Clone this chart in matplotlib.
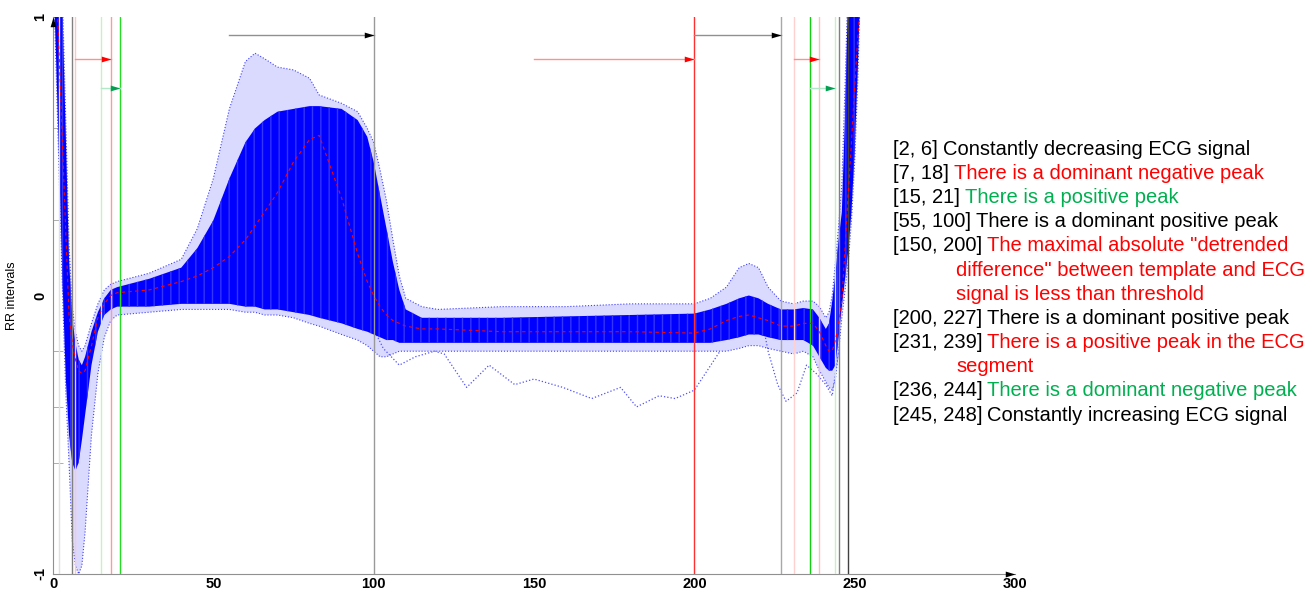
import numpy as np
import matplotlib.pyplot as plt

plt.rcParams['font.family'] = ['Liberation Sans', 'DejaVu Sans']
plt.rcParams['axes.unicode_minus'] = False

beat_x = [0, 1, 2, 3, 4, 5, 6, 7, 8, 9,
          10, 12, 14, 16, 18, 20, 30, 40, 45, 50,
          55, 60, 63, 66, 70, 75, 80, 83, 90, 95,
          98, 100, 102, 104, 106, 108, 110, 115, 120, 140,
          160, 180, 200, 205, 210, 214, 217, 220, 223, 227,
          231, 234, 237, 239, 241, 242, 243, 244, 245, 246,
          247, 248, 249, 250, 251, 252]

# dense part of the beats
core_top = [1.2, 1.2, 1.2, 1.0, 0.57, 0.13, -0.08, -0.17, -0.23, -0.25,
            -0.22, -0.13, -0.06, -0.01, 0.02, 0.03, 0.06, 0.1, 0.17, 0.27,
            0.42, 0.55, 0.6, 0.63, 0.66, 0.67, 0.68, 0.68, 0.67, 0.63,
            0.57, 0.48, 0.36, 0.24, 0.12, 0.02, -0.05, -0.08, -0.08, -0.08,
            -0.075, -0.07, -0.065, -0.05, -0.03, -0.01, 0.0, -0.01, -0.03, -0.05,
            -0.05, -0.045, -0.05, -0.08, -0.12, -0.1, -0.02, 0.08, 0.2, 0.3,
            0.65, 1.1, 1.2, 1.2, 1.2, 1.2]
core_bottom = [1.2, 0.84, 0.44, 0.04, -0.3, -0.5, -0.6, -0.63, -0.6, -0.52,
               -0.43, -0.25, -0.13, -0.07, -0.05, -0.04, -0.04, -0.03, -0.03, -0.03,
               -0.03, -0.04, -0.04, -0.05, -0.05, -0.06, -0.07, -0.08, -0.1, -0.12,
               -0.13, -0.14, -0.15, -0.16, -0.16, -0.17, -0.17, -0.17, -0.17, -0.17,
               -0.17, -0.17, -0.17, -0.17, -0.16, -0.15, -0.14, -0.14, -0.15, -0.16,
               -0.16, -0.16, -0.18, -0.22, -0.26, -0.27, -0.27, -0.25, -0.15, -0.04,
               0.06, 0.16, 0.3, 0.52, 0.82, 1.2]
# sparse outliers around it
outer_top = [1.2, 1.2, 1.2, 1.05, 0.62, 0.18, -0.04, -0.13, -0.18, -0.2,
             -0.18, -0.1, -0.03, 0.02, 0.04, 0.05, 0.08, 0.13, 0.24, 0.42,
             0.67, 0.84, 0.87, 0.85, 0.82, 0.81, 0.78, 0.72, 0.69, 0.66,
             0.6, 0.55, 0.45, 0.34, 0.2, 0.07, -0.01, -0.04, -0.05, -0.04,
             -0.04, -0.03, -0.03, -0.01, 0.03, 0.1, 0.115, 0.1, 0.03, -0.02,
             -0.03, -0.02, -0.02, -0.04, -0.08, -0.06, 0.0, 0.12, 0.25, 0.4,
             0.75, 1.15, 1.2, 1.2, 1.2, 1.2]
outer_bottom = [1.2, 0.8, 0.4, 0.0, -0.35, -0.6, -0.88, -0.97, -1.0, -0.97,
                -0.85, -0.5, -0.28, -0.15, -0.09, -0.07, -0.06, -0.05, -0.05, -0.05,
                -0.05, -0.06, -0.06, -0.07, -0.07, -0.08, -0.1, -0.11, -0.14, -0.16,
                -0.18, -0.2, -0.22, -0.22, -0.21, -0.2, -0.2, -0.2, -0.2, -0.2,
                -0.2, -0.2, -0.2, -0.2, -0.2, -0.19, -0.18, -0.18, -0.19, -0.2,
                -0.21, -0.2, -0.22, -0.27, -0.31, -0.33, -0.34, -0.3, -0.2, -0.08,
                0.02, 0.12, 0.27, 0.48, 0.78, 1.2]
# template beat (red dashed)
template = [1.45, 1.15, 0.84, 0.53, 0.22, -0.07, -0.17, -0.23, -0.27, -0.28,
            -0.27, -0.18, -0.08, -0.03, 0.0, 0.01, 0.02, 0.05, 0.07, 0.1,
            0.14, 0.2, 0.25, 0.3, 0.37, 0.48, 0.56, 0.575, 0.35, 0.15,
            0.05, 0.0, -0.04, -0.07, -0.09, -0.1, -0.11, -0.12, -0.12, -0.13,
            -0.13, -0.13, -0.135, -0.12, -0.09, -0.075, -0.07, -0.08, -0.09, -0.11,
            -0.11, -0.1, -0.1, -0.13, -0.18, -0.2, -0.2, -0.16, -0.1, -0.02,
            0.17, 0.37, 0.55, 0.75, 0.93, 1.1]

# two odd beats that wander below the bundle
odd1_x = [100, 103, 108, 113, 119, 122, 129, 136, 144, 150, 159, 168, 177, 182, 189, 194, 200, 208]
odd1_y = [-0.12, -0.19, -0.25, -0.22, -0.2, -0.21, -0.33, -0.25, -0.32, -0.3, -0.33, -0.37, -0.33, -0.4, -0.36, -0.37, -0.34, -0.2]
odd2_x = [222, 223, 226, 228.6, 232, 235, 238, 241, 243, 245]
odd2_y = [-0.14, -0.2, -0.32, -0.38, -0.35, -0.25, -0.28, -0.32, -0.36, -0.2]

# rule regions
reg_start = [2, 7, 15, 55, 150, 200, 231, 236, 245]
reg_end = [6, 18, 21, 100, 200, 227, 239, 244, 248]
reg_kind = ['black', 'red', 'green', 'black', 'red', 'black', 'red', 'green', 'black']
reg_text = [['Constantly decreasing ECG signal'],
            ['There is a dominant negative peak'],
            ['There is a positive peak'],
            ['There is a dominant positive peak'],
            ['The maximal absolute "detrended', 'difference" between template and ECG',
             'signal is less than threshold'],
            ['There is a dominant positive peak'],
            ['There is a positive peak in the ECG', 'segment'],
            ['There is a dominant negative peak'],
            ['Constantly increasing ECG signal']]
y_minor = [0.6, 0.27, -0.2, -0.4, -0.6]

# line colours for each region border (start, end)
border_colors = [('#e0e0e0', '#808080'), ('#ffc8c8', '#ff9a9a'), ('#c8f0c8', '#22dd22'),
                 (None, '#999999'), (None, '#ff3030'), (None, '#a8a8a8'),
                 ('#ffd0d0', '#ffc0c0'), ('#10d010', '#c8f0c8'), ('#808080', '#404040')]
arrow_y = {'black': 0.935, 'red': 0.85, 'green': 0.745}
shaft_col = {'black': '#909090', 'red': '#ff9090', 'green': '#b0e8c8'}
head_col = {'black': '#000000', 'red': '#ff0000', 'green': '#00a050'}
text_col = {'black': 'black', 'red': '#ff0000', 'green': '#00b050'}

W, H = 1307, 592
fig = plt.figure(figsize=(W / 100, H / 100), dpi=100)
ax = fig.add_axes([53 / W, 1 - 574 / H, (1015 - 53) / W, (574 - 17) / H])

ax.fill_between(beat_x, outer_bottom, outer_top, color='#dadaff', lw=0, zorder=1)
ax.plot(beat_x, outer_top, ls=':', color='#4040ff', lw=0.8, zorder=2)
ax.plot(beat_x, outer_bottom, ls=':', color='#4040ff', lw=0.8, zorder=2)
ax.fill_between(beat_x, core_bottom, core_top, facecolor='#0000ff', edgecolor='#3434ff',
                hatch='||', lw=0, zorder=3)
ax.plot(odd1_x, odd1_y, ls=':', color='#5050ff', lw=0.9, zorder=2)
ax.plot(odd2_x, odd2_y, ls=':', color='#5050ff', lw=0.9, zorder=2)

tri_right = [(0, 0), (-1, 0.3), (-1, -0.3), (0, 0)]
tri_up = [(0, 0), (-0.3, -1), (0.3, -1), (0, 0)]
for a, b, kind, cols in zip(reg_start, reg_end, reg_kind, border_colors):
    if cols[0]:
        ax.axvline(a, color=cols[0], lw=1, zorder=4)
    ax.axvline(b, color=cols[1], lw=1, zorder=4)
for a, b, kind in zip(reg_start[1:-1], reg_end[1:-1], reg_kind[1:-1]):
    y = arrow_y[kind]
    ax.plot([a, b], [y, y], color=shaft_col[kind], lw=1, zorder=5)
    ax.plot(b, y, marker=tri_right, ms=14, color=head_col[kind], mew=0, zorder=6)

ax.plot(beat_x, template, color='#ff0000', lw=0.8, dashes=(3, 3), zorder=7)

ax.set_xlim(0, 300)
ax.set_ylim(-1, 1)
for s in ['top', 'right']:
    ax.spines[s].set_visible(False)
for s in ['left', 'bottom']:
    ax.spines[s].set_color('#909090')
ax.plot(0, 1, marker=tri_up, ms=14, color='black', mew=0, clip_on=False, zorder=8)
ax.plot(300, -1, marker=tri_right, ms=14, color='black', mew=0, clip_on=False, zorder=8)

ax.set_xticks([0, 50, 100, 150, 200, 250, 300])
ax.set_yticks([-1, 0, 1])
ax.set_yticks(y_minor, minor=True)
ax.tick_params(axis='both', which='major', length=0, labelsize=10.5)
ax.tick_params(axis='x', pad=2)
ax.tick_params(axis='y', pad=4)
ax.tick_params(axis='y', which='minor', direction='in', length=7, color='#a0a0a0')
for lab in ax.get_xticklabels() + ax.get_yticklabels():
    lab.set_fontweight('bold')
for lab in ax.get_yticklabels():
    lab.set_rotation(90)
    lab.set_va('center')
ax.set_ylabel('RR intervals', fontsize=9)
ax.yaxis.set_label_coords(-(53 - 18) / 962, 0.5)

# description list on the right
fs = 14.5
line = 0
for a, b, kind, body in zip(reg_start, reg_end, reg_kind, reg_text):
    y = 1 - (149 + line * 24.2) / H
    t = fig.text(893 / W, y, f'[{a}, {b}]', fontsize=fs, va='center', color='black')
    ax.annotate(body[0], xy=(1, 0), xycoords=t, xytext=(3.5, 0), textcoords='offset points',
                ha='left', va='bottom', fontsize=fs, color=text_col[kind], annotation_clip=False)
    line += 1
    for extra in body[1:]:
        y = 1 - (149 + line * 24.2) / H
        fig.text(956 / W, y, extra, fontsize=fs, va='center', color=text_col[kind])
        line += 1

fig.savefig('out.png', dpi=100)
